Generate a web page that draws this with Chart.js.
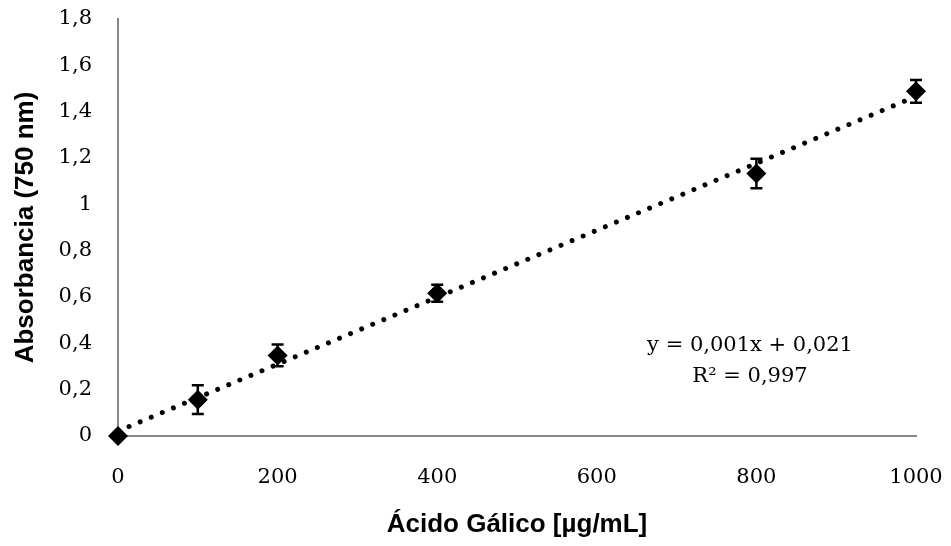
<!DOCTYPE html>
<html>
<head>
<meta charset="utf-8">
<script src="https://cdn.jsdelivr.net/npm/chart.js@4/dist/chart.umd.min.js"></script>
<style>
  html, body { margin: 0; padding: 0; background: #fff; }
  #wrap { width: 951px; height: 546px; position: relative; }
</style>
</head>
<body>
<div id="wrap"><canvas id="c"></canvas></div>
<script>
  var concentrations = [0, 100, 200, 400, 800, 1000];
  var absorbance = [0, 0.157, 0.348, 0.616, 1.133, 1.488];
  var stdErrors = [0, 0.062, 0.047, 0.037, 0.064, 0.049];
  var trendX = [0, 1000];
  var trendY = [0.021, 1.466];
  var equationLines = ["y = 0,001x + 0,021", "R² = 0,997"];
  var xTitle = "Ácido Gálico [µg/mL]";
  var yTitle = "Absorbancia (750 nm)";

  var INK = "#000000";
  var AXIS = "#878787";
  var SERIF = "'DejaVu Serif', 'Liberation Serif', serif";
  var SANS = "'Liberation Sans', Arial, sans-serif";

  function fmtComma(v) {
    return String(Math.round(v * 10) / 10).replace(".", ",");
  }

  var points = concentrations.map(function (x, i) { return { x: x, y: absorbance[i] }; });
  var trend = trendX.map(function (x, i) { return { x: x, y: trendY[i] }; });

  // vertical error bars with caps, drawn under the markers
  var errorBars = {
    id: "errorBars",
    beforeDatasetsDraw: function (chart) {
      var ctx = chart.ctx;
      var xs = chart.scales.x, ys = chart.scales.y;
      ctx.save();
      ctx.strokeStyle = INK;
      ctx.lineWidth = 2.5;
      points.forEach(function (p, i) {
        var e = stdErrors[i];
        if (!e) return;
        var px = xs.getPixelForValue(p.x);
        var top = ys.getPixelForValue(p.y + e);
        var bot = ys.getPixelForValue(p.y - e);
        ctx.beginPath();
        ctx.moveTo(px, top); ctx.lineTo(px, bot);
        ctx.moveTo(px - 6, top); ctx.lineTo(px + 6, top);
        ctx.moveTo(px - 6, bot); ctx.lineTo(px + 6, bot);
        ctx.stroke();
      });
      ctx.restore();
    }
  };

  // trendline equation, anchored in data units
  var equation = {
    id: "equation",
    afterDraw: function (chart) {
      var ctx = chart.ctx;
      var xs = chart.scales.x, ys = chart.scales.y;
      ctx.save();
      ctx.fillStyle = INK;
      ctx.font = "21px " + SERIF;
      ctx.textAlign = "center";
      ctx.textBaseline = "alphabetic";
      var ex = xs.getPixelForValue(792);
      var ey = ys.getPixelForValue(0.369);
      ctx.fillText(equationLines[0], ex, ey);
      ctx.fillText(equationLines[1], ex, ey + 31);
      ctx.restore();
    }
  };

  new Chart(document.getElementById("c"), {
    type: "scatter",
    data: {
      datasets: [
        {
          label: "Absorbancia",
          data: points,
          clip: false,
          pointStyle: "rectRot",
          pointRadius: 10,
          pointHoverRadius: 10,
          backgroundColor: INK,
          borderColor: INK,
          borderWidth: 0
        },
        {
          label: "Lineal",
          type: "line",
          data: trend,
          showLine: true,
          borderColor: INK,
          borderWidth: 5,
          borderDash: [0.01, 12],
          borderCapStyle: "round",
          pointRadius: 0,
          fill: false
        }
      ]
    },
    options: {
      responsive: true, maintainAspectRatio: false,
      animation: false,
      layout: { autoPadding: false, padding: { top: 19, right: 35, left: 0, bottom: 0 } },
      plugins: { legend: { display: false }, tooltip: { enabled: false } },
      scales: {
        x: {
          type: "linear", min: 0, max: 1000,
          grid: { display: false, drawTicks: false },
          border: { display: true, color: AXIS, width: 2 },
          ticks: { stepSize: 200, color: INK, padding: 29, font: { family: SERIF, size: 21 }, maxRotation: 0,
                   callback: function (v) { return String(v); } },
          title: { display: true, text: xTitle, color: INK, font: { family: SANS, size: 26, weight: "bold" }, padding: { top: 0, bottom: 6 } },
          afterFit: function (s) { s.height = 110; s.paddingLeft = 0; s.paddingRight = 0; }
        },
        y: {
          type: "linear", min: 0, max: 1.8,
          grid: { display: false, drawTicks: false },
          border: { display: true, color: AXIS, width: 2 },
          ticks: { stepSize: 0.2, color: INK, padding: 26, font: { family: SERIF, size: 21 }, callback: function (v) { return fmtComma(v); } },
          title: { display: true, text: yTitle, color: INK, font: { family: SANS, size: 26, weight: "bold" }, padding: { top: 10, bottom: 0 } },
          afterFit: function (s) { s.width = 118; s.paddingTop = 0; s.paddingBottom = 0; }
        }
      }
    },
    plugins: [errorBars, equation]
  });
</script>
</body>
</html>
